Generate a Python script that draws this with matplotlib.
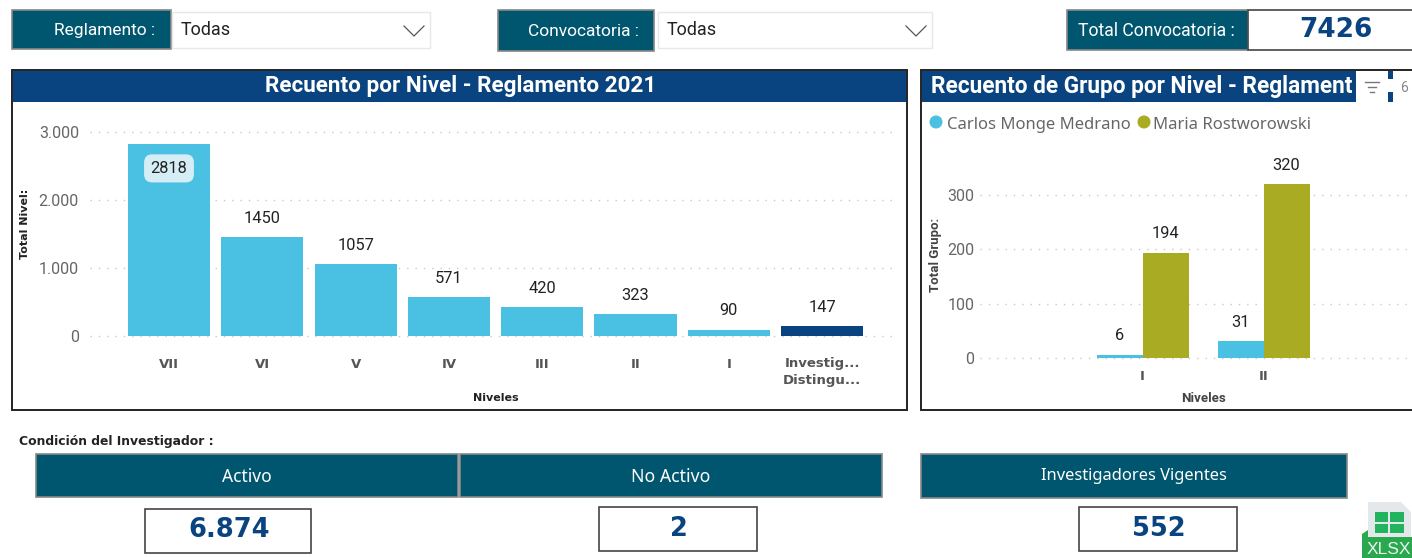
import matplotlib
matplotlib.use('Agg')
import matplotlib.pyplot as plt
from matplotlib.patches import Rectangle, Circle, Polygon

niveles = ['VII', 'VI', 'V', 'IV', 'III', 'II', 'I', 'Investig...\nDistingu...']
total_nivel = [2818, 1450, 1057, 571, 420, 323, 90, 147]
y_ticks_1 = [0, 1000, 2000, 3000]
y_labels_1 = ['0', '1.000', '2.000', '3.000']

grupos = ['I', 'II']
carlos = [6, 31]
maria = [194, 320]
y_ticks_2 = [0, 100, 200, 300]

total_convocatoria = '7426'
activo = '6.874'
no_activo = '2'
vigentes = '552'

TEAL = '#01566f'
NAVY = '#0a4480'
CYAN = '#4ac1e2'
OLIVE = '#a9ab22'
GRAY = '#666666'
W, H = 1412, 558

plt.rcParams['font.family'] = ['Open Sans', 'DejaVu Sans']

fig = plt.figure(figsize=(W / 100, H / 100), dpi=100, facecolor='white')
bg = fig.add_axes([0, 0, 1, 1])
bg.set_xlim(0, W)
bg.set_ylim(H, 0)
bg.axis('off')


def box(x0, y0, x1, y1, fc='white', ec='#444444', lw=1.2, z=1):
    r = Rectangle((x0, y0), x1 - x0, y1 - y0, fc=fc, ec=ec, lw=lw, zorder=z)
    bg.add_patch(r)
    return r


def label(x, y, s, size=11.5, color='white', ha='center', **kw):
    return bg.text(x, y, s, fontsize=size, color=color, ha=ha, va='center', zorder=5, **kw)


def dropdown(x0, x1, xa):
    box(x0, 12, x1, 48, ec='#e8e8e8', lw=1)
    label(x0 + 9, 30, 'Todas', size=13, color='#222222', ha='left', family='Roboto')
    bg.plot([xa, xa + 10, xa + 20], [26, 36, 26], color='#555555', lw=0.9, zorder=5)


def make_axes(x0, y0, x1, y1):
    a = fig.add_axes([x0 / W, 1 - y1 / H, (x1 - x0) / W, (y1 - y0) / H])
    a.patch.set_alpha(0)
    for s in a.spines.values():
        s.set_visible(False)
    a.grid(axis='y', color='#c8c8c8', lw=1, ls=(0, (1, 5)))
    a.set_axisbelow(True)
    a.tick_params(length=0)
    return a


# top row
box(12, 10, 171, 49, fc=TEAL, ec='#888888')
label(105, 30, 'Reglamento :', size=12.5, family='Roboto')
dropdown(172, 430, 404)
box(498, 10, 654, 51, fc=TEAL, ec='#888888')
label(584, 31, 'Convocatoria :', size=12.5, family='Roboto')
dropdown(658, 932, 906)
box(1067, 10, 1248, 50, fc=TEAL, ec='#888888')
label(1156, 31, 'Total Convocatoria :', size=12.7, family='Roboto')
box(1248, 10, 1420, 50, ec='#444444')
label(1336, 30, total_convocatoria, size=19, color=NAVY, family='DejaVu Sans', fontweight='bold')

# panel frames and headers
box(12, 70, 907, 410, ec='#222222', lw=1.4)
box(13, 71, 906, 102, fc=NAVY, ec='none', lw=0)
label(461, 86, 'Recuento por Nivel - Reglamento 2021', size=16.2, family='Roboto', fontweight='bold')

box(921, 70, 1420, 410, ec='#222222', lw=1.4)
box(922, 71, 1356, 102, fc=NAVY, ec='none', lw=0)
box(1356, 71, 1412, 102, ec='none', lw=0, z=2)
box(1388, 71, 1393, 79, fc=NAVY, ec='none', lw=0, z=3)
box(1388, 92, 1393, 102, fc=NAVY, ec='none', lw=0, z=3)
for y, x0, x1 in [(82, 1365, 1379), (87, 1368, 1376), (92, 1370, 1374)]:
    bg.plot([x0, x1], [y, y], color='#777777', lw=1, zorder=5)
label(1400, 88, '6', size=10, color='#888888', ha='left', family='Roboto')
label(931, 86, 'Recuento de Grupo por Nivel - Reglament', size=16.3, ha='left',
      family='Roboto', fontweight='bold')

# legend of the second chart
bg.add_patch(Circle((936, 122), 6.5, fc=CYAN, ec='none', zorder=5))
label(947, 125, 'Carlos Monge Medrano', size=12, color=GRAY, ha='left', family='Noto Sans')
bg.add_patch(Circle((1144, 122), 6.5, fc=OLIVE, ec='none', zorder=5))
label(1153, 125, 'Maria Rostworowski', size=12, color=GRAY, ha='left', family='Noto Sans')

# chart 1
ax1 = make_axes(90, 120, 897, 345)
ax1.set_xlim((90 - 169) / 93.3, (897 - 169) / 93.3)
ax1.set_ylim(-9 * 3000 / 204, 12 * 3000 / 204 + 3000)
colors1 = [CYAN] * 7 + [NAVY]
ax1.bar(range(len(niveles)), total_nivel, width=0.88, color=colors1)
for i, v in enumerate(total_nivel):
    if i == 0:
        ax1.annotate(str(v), (i, v), xytext=(0, -24), textcoords='offset pixels', ha='center', va='center',
                     fontsize=11.8, color='#222222', family='Roboto',
                     bbox=dict(boxstyle='round,pad=0.4,rounding_size=0.5', fc='#d5eef6', ec='none'))
    else:
        ax1.annotate(str(v), (i, v), xytext=(0, 19), textcoords='offset pixels', ha='center', va='center',
                     fontsize=11.8, color='#222222', family='Roboto')
ax1.set_yticks(y_ticks_1, y_labels_1, fontsize=11.5, color=GRAY, family='Roboto')
ax1.tick_params(axis='y', pad=8)
ax1.set_xticks(range(len(niveles)), niveles, fontsize=9.5, color='#555555', fontweight='bold',
               family='DejaVu Sans', linespacing=1.35)
ax1.tick_params(axis='x', pad=9)
label(496, 398, 'Niveles', size=8, color='#222222', family='DejaVu Sans', fontweight='bold')
label(25, 224, 'Total Nivel:', size=8, color='#222222', family='DejaVu Sans', fontweight='bold', rotation=90)

# chart 2
ax2 = make_axes(980, 140, 1412, 370)
ax2.set_xlim((980 - 1142.5) / 121, (1412 - 1142.5) / 121)
scale2 = 163 / 300
ax2.set_ylim(-12 / scale2, 55 / scale2 + 300)
xs = list(range(len(grupos)))
w = 46 / 121
ax2.bar([x - w / 2 for x in xs], carlos, width=w, color=CYAN)
ax2.bar([x + w / 2 for x in xs], maria, width=w, color=OLIVE)
for x, a, b in zip(xs, carlos, maria):
    ax2.annotate(str(a), (x - w / 2, a), xytext=(0, 19), textcoords='offset pixels', ha='center', va='center',
                 fontsize=11.8, color='#222222', family='Roboto')
    ax2.annotate(str(b), (x + w / 2, b), xytext=(0, 19), textcoords='offset pixels', ha='center', va='center',
                 fontsize=11.8, color='#222222', family='Roboto')
ax2.set_yticks(y_ticks_2, [str(v) for v in y_ticks_2], fontsize=11.5, color=GRAY, family='Roboto')
ax2.tick_params(axis='y', pad=4)
ax2.set_xticks(xs, grupos, fontsize=9.5, color='#555555', fontweight='bold', family='DejaVu Sans')
ax2.tick_params(axis='x', pad=0)
label(1204, 398, 'Niveles', size=9.5, color='#444444', family='Roboto', fontweight='bold')
label(936, 255, 'Total Grupo:', size=9.5, color='#444444', family='Roboto', fontweight='bold', rotation=90)

# bottom row
label(19, 441, 'Condición del Investigador :', size=8.9, color='#222222', ha='left',
      family='DejaVu Sans', fontweight='bold')
box(36, 454, 458, 497, fc=TEAL, ec='#888888')
label(247, 477, 'Activo', size=12.5, family='Noto Sans')
box(460, 454, 882, 497, fc=TEAL, ec='#888888')
label(671, 477, 'No Activo', size=12.7, family='Noto Sans')
box(921, 454, 1347, 498, fc=TEAL, ec='#888888')
label(1134, 476, 'Investigadores Vigentes', size=11.9, family='Noto Sans')

box(145, 509, 311, 553)
label(229, 530, activo, size=18.5, color=NAVY, family='DejaVu Sans', fontweight='bold')
box(599, 507, 757, 551)
label(679, 529, no_activo, size=18.5, color=NAVY, family='DejaVu Sans', fontweight='bold')
box(1079, 507, 1237, 551)
label(1159, 529, vigentes, size=18.5, color=NAVY, family='DejaVu Sans', fontweight='bold')

# xlsx icon
bg.add_patch(Polygon([(1368, 502), (1401, 502), (1411, 512), (1411, 538), (1368, 538)],
                     fc='#e4e8ea', ec='none', zorder=3))
for x0, y0, x1, y1 in [(1375, 512, 1388, 522), (1390, 512, 1404, 522),
                       (1375, 524, 1388, 533), (1390, 524, 1404, 533)]:
    box(x0, y0, x1, y1, fc='#21b35e', ec='none', lw=0, z=4)
bg.add_patch(Polygon([(1362, 534), (1368, 530), (1368, 537), (1412, 537), (1412, 558), (1362, 558)],
                     fc='#2aa84f', ec='none', zorder=4))
label(1389, 549, 'XLSX', size=12.5, color='#e8f5ec', family='Liberation Sans')

fig.savefig('out.png', dpi=100)
